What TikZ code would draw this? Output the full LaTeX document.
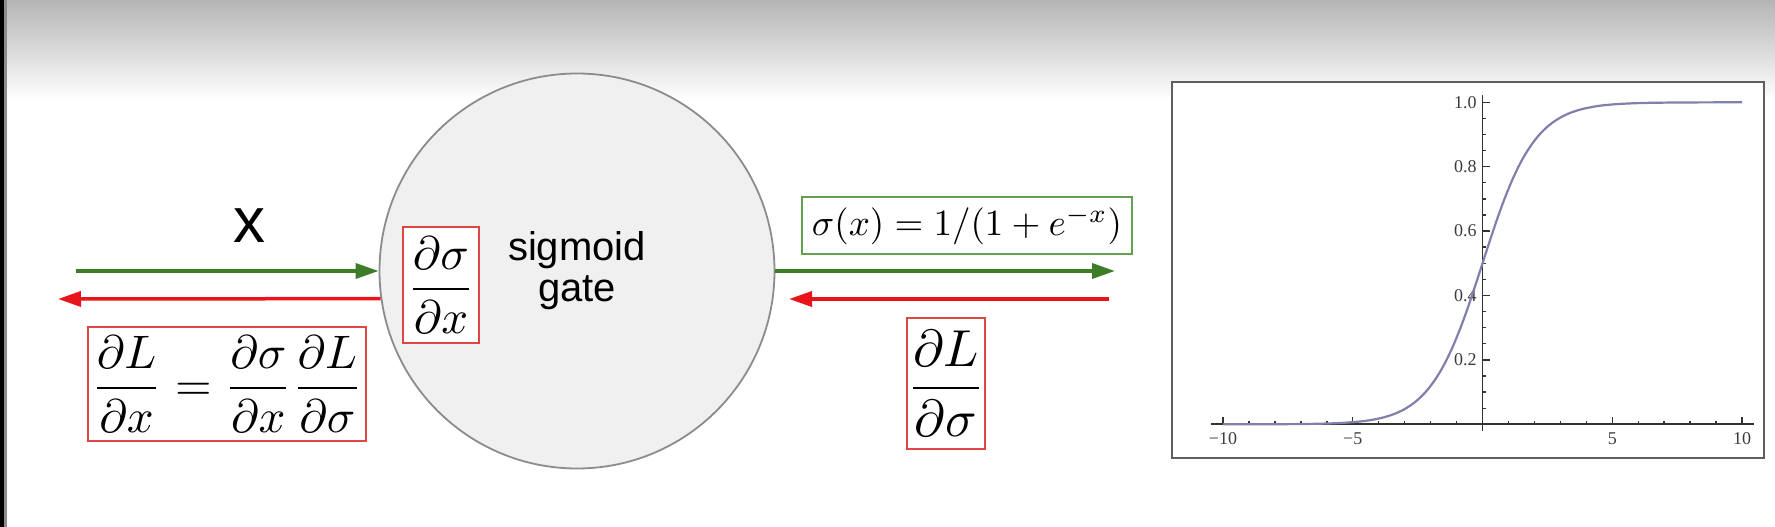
\documentclass[tikz,border=0pt]{standalone}
\usepackage{fontspec}
\newfontfamily\arialfont{Liberation Sans}
\newfontfamily\plotfont{Liberation Serif}
\usetikzlibrary{arrows.meta}
\definecolor{fgreen}{RGB}{62,125,40}
\definecolor{fred}{RGB}{232,22,28}
\definecolor{boxred}{RGB}{222,70,70}
\definecolor{boxgreen}{RGB}{100,160,80}
\definecolor{circfill}{RGB}{240,240,240}
\definecolor{circline}{RGB}{140,140,140}
\definecolor{curvec}{RGB}{128,128,170}
\definecolor{framec}{RGB}{95,95,95}
\definecolor{axisc}{RGB}{50,50,50}
\definecolor{labc}{RGB}{60,60,60}
\begin{document}
\begin{tikzpicture}[x=1pt,y=-1pt,
  garrow/.style={draw=fgreen, line width=3.5pt, -{Triangle[length=23pt,width=15pt]}},
  rarrow/.style={draw=fred, line width=3.5pt, -{Triangle[length=23pt,width=15pt]}},
  redbox/.style={draw=boxred, line width=1.6pt, fill=white, inner sep=0pt},
  greenbox/.style={draw=boxgreen, line width=1.6pt, fill=white, inner sep=0pt},
  gatestyle/.style={circle, draw=circline, fill=circfill, line width=1.8pt, minimum size=395pt, inner sep=0pt, align=center, font=\arialfont\fontsize{40}{41}\selectfont},
  ylab/.style={anchor=east, inner sep=0pt, text=labc, font=\plotfont\fontsize{18}{18}\selectfont},
  xlab/.style={inner sep=0pt, text=labc, font=\plotfont\fontsize{18}{18}\selectfont},
  tick/.style={draw=axisc, line width=1.4pt}
]
% background and bounding box
\fill[white] (0,0) rectangle (1775,527);
\useasboundingbox (0,0) rectangle (1775,527);
% top gradient
\shade[top color={rgb,255:red,181;green,181;blue,181}, middle color={rgb,255:red,236;green,236;blue,236}, bottom color=white] (0,0) rectangle (1775,100);
% left edge bars
\fill[black] (0,0) rectangle (4,527);
\fill[black!45] (4,0) rectangle (7,527);

% gate
\node[gatestyle] (gate) at (577,271) {sigmoid\\gate};
\node[redbox, minimum width=76pt, minimum height=116pt] (dsdx) at (441,285)
  {\scalebox{4.7}{$\displaystyle\frac{\partial\sigma}{\partial x}$}};

% left side
\node[font=\arialfont\fontsize{64}{64}\selectfont] (xlabel) at (249,226) {x};
\coordinate (inL) at (76,271);
\coordinate (outL) at (58,299);
\draw[garrow] (inL) -- (gate.west);
\draw[rarrow] (gate.188.15) -- (outL);
\node[redbox, minimum width=278pt, minimum height=114pt] (chain) at (227,384)
  {\scalebox{4.7}{$\displaystyle\frac{\partial L}{\partial x}=\frac{\partial\sigma}{\partial x}\frac{\partial L}{\partial\sigma}$}};

% right side
\coordinate (outR) at (1115,271);
\coordinate (inR) at (1109,299);
\coordinate (tipR) at (789,299);
\draw[garrow] (gate.east) -- (outR);
\draw[rarrow] (inR) -- (tipR);
\node[greenbox, minimum width=330pt, minimum height=57pt] (sigdef) at (967,225.5)
  {\scalebox{3.7}{$\sigma(x)=1/(1+e^{-x})$}};
\node[redbox, minimum width=76pt, minimum height=131pt] (dLds) at (946,383.5)
  {\scalebox{5.2}{$\displaystyle\frac{\partial L}{\partial\sigma}$}};

% plot
\node[draw=framec, line width=2.6pt, fill=white, minimum width=592pt, minimum height=376pt, inner sep=0pt] (plotframe) at (1468,270) {};
\begin{scope}[shift={(1482.5pt,-424.3pt)}, x=25.95pt, y=322pt]
  \draw[draw=axisc, line width=1.8pt] (-10.46,0) -- (10.46,0);
  \draw[draw=axisc, line width=1.8pt] (0,-0.02) -- (0,1.023);
  \foreach \u in {-10,...,-1,1,2,...,10} \draw[tick] (\u,0) -- ++(0pt,3.5pt);
  \foreach \u in {-10,-5,5,10} \draw[tick] (\u,0) -- ++(0pt,7pt);
  \foreach \k in {1,...,20} \draw[tick] (0,\k*0.05) -- ++(3.5pt,0pt);
  \foreach \k in {1,...,5} \draw[tick] (0,\k*0.2) -- ++(7pt,0pt);
  \foreach \v/\t [count=\i] in {0.2/0.2,0.4/0.4,0.6/0.6,0.8/0.8,1.0/1.0}
    \node[ylab] (yl\i) at (-0.22,\v) {\t};
  \foreach \u/\t [count=\i] in {-10/−10,-5/−5,5/5,10/10}
    \node[xlab, yshift=-14pt] (xl\i) at (\u,0) {\t};
  \draw[draw=curvec, line width=2.2pt]
    plot[domain=-10:0, samples=60, smooth] (\x,{exp(\x)/(1+exp(\x))})
    -- plot[domain=0:10, samples=60, smooth] (\x,{1/(1+exp(-\x))});
\end{scope}
\end{tikzpicture}
\end{document}
